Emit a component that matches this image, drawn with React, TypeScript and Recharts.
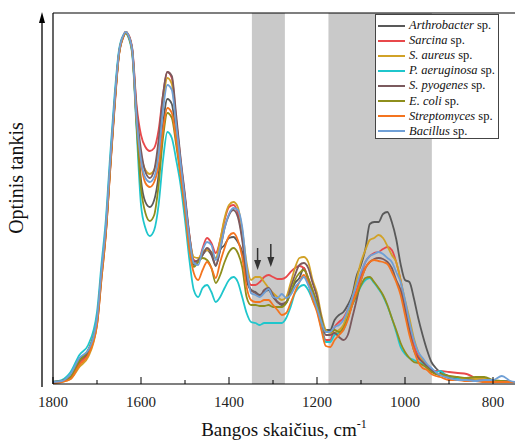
import React from "react";
import {
  LineChart,
  Line,
  XAxis,
  YAxis,
  ReferenceArea,
  ReferenceLine,
  ReferenceDot,
  Legend,
} from "recharts";

const SERIF = '"Liberation Serif", "Times New Roman", serif';

// wavenumber grid, cm-1
const wavenumbers = [
  1800, 1780, 1760, 1740, 1720, 1700, 1690, 1680, 1670, 1660, 1650, 1640, 1635, 1630, 1620,
  1610, 1600, 1590, 1580, 1570, 1560, 1550, 1540, 1530, 1520, 1510, 1500, 1490, 1480, 1470,
  1460, 1450, 1440, 1430, 1420, 1410, 1400, 1390, 1380, 1370, 1360, 1350,
  1340, 1330, 1320, 1310, 1300, 1290, 1280, 1270, 1260, 1250, 1240, 1230, 1220, 1210, 1200, 1190, 1180,
  1170, 1160, 1150, 1140, 1130, 1120, 1110, 1100, 1090, 1080, 1070, 1060, 1050, 1040, 1030, 1020, 1010,
  1000, 990, 980, 970, 960, 950, 940,
  930, 920, 900, 880, 860, 840, 820, 800, 780, 760, 750,
];

// optical density, arbitrary units
const arthrobacter = [
  2, 3, 7, 24, 34, 64, 111, 155, 220, 282, 331, 348, 352, 350, 334,
  262, 204, 182, 177, 184, 209, 259, 285, 280, 249, 216, 181, 144, 119, 122,
  129, 134, 129, 118, 134, 139, 146, 147, 142, 132, 104, 94,
  92, 89, 92, 94, 87, 82, 79, 81, 91, 101, 106, 116, 104, 89, 76, 62, 54,
  54, 64, 69, 72, 79, 89, 108, 119, 135, 160, 162, 162, 170, 172, 162, 145, 120,
  104, 102, 86, 66, 49, 34, 22,
  16, 12, 8, 6, 4, 4, 3, 2, 3, 2, 2,
];
const sarcina = [
  1, 3, 6, 21, 31, 59, 104, 149, 214, 276, 329, 347, 351, 350, 336,
  279, 249, 237, 233, 236, 254, 289, 312, 306, 264, 224, 186, 149, 124, 122,
  136, 146, 141, 131, 144, 164, 177, 179, 171, 147, 114, 99,
  99, 102, 107, 109, 107, 105, 105, 107, 112, 116, 118, 116, 106, 94, 79, 59, 44,
  44, 57, 62, 66, 74, 84, 94, 109, 122, 128, 131, 132, 135, 137, 134, 122, 104,
  79, 56, 39, 28, 22, 18, 14,
  13, 13, 12, 11, 10, 6, 4, 3, 3, 2, 2,
];
const aureus = [
  1, 2, 5, 17, 27, 59, 104, 149, 214, 278, 329, 347, 351, 349, 333,
  269, 229, 214, 210, 214, 236, 281, 306, 300, 259, 219, 184, 147, 127, 126,
  132, 134, 132, 126, 144, 166, 179, 182, 177, 154, 121, 104,
  107, 107, 102, 96, 91, 87, 84, 87, 101, 116, 126, 127, 122, 104, 91, 69, 54,
  51, 51, 54, 59, 72, 86, 104, 122, 134, 144, 146, 149, 146, 138, 129, 122, 104,
  84, 66, 46, 32, 24, 19, 14,
  10, 9, 7, 5, 5, 5, 6, 3, 3, 2, 2,
];
const aeruginosa = [
  2, 4, 12, 29, 39, 72, 119, 164, 229, 289, 334, 349, 351, 348, 330,
  254, 179, 156, 148, 154, 179, 224, 252, 246, 224, 199, 164, 124, 94, 87,
  96, 99, 92, 82, 87, 96, 104, 107, 102, 87, 71, 62,
  61, 59, 61, 61, 61, 61, 61, 66, 77, 91, 97, 99, 94, 84, 74, 56, 42,
  42, 49, 51, 54, 66, 79, 88, 98, 104, 106, 101, 95, 88, 78, 66, 52, 37,
  30, 26, 24, 22, 20, 17, 14,
  12, 13, 6, 5, 3, 3, 3, 3, 3, 2, 2,
];
const pyogenes = [
  2, 3, 7, 23, 32, 62, 108, 152, 217, 280, 330, 348, 352, 350, 335,
  274, 234, 212, 206, 214, 244, 289, 312, 308, 269, 226, 189, 149, 122, 124,
  129, 136, 131, 119, 134, 156, 169, 174, 167, 144, 109, 94,
  91, 88, 94, 96, 89, 82, 80, 82, 96, 109, 119, 121, 116, 101, 87, 66, 49,
  49, 51, 47, 44, 49, 66, 84, 104, 116, 122, 125, 126, 125, 122, 116, 104, 94,
  74, 54, 34, 26, 22, 18, 14,
  10, 9, 6, 4, 4, 3, 3, 2, 3, 2, 2,
];
const coli = [
  2, 3, 7, 23, 34, 64, 110, 154, 219, 281, 331, 348, 351, 349, 332,
  259, 196, 171, 163, 169, 199, 246, 271, 266, 239, 209, 176, 139, 117, 122,
  126, 124, 116, 101, 109, 122, 132, 136, 131, 117, 87, 79,
  79, 78, 78, 79, 77, 77, 77, 81, 91, 104, 111, 114, 106, 94, 81, 64, 52,
  52, 54, 52, 56, 66, 79, 89, 99, 106, 107, 102, 96, 89, 79, 66, 54, 41,
  32, 26, 22, 21, 19, 16, 12,
  10, 10, 8, 7, 6, 7, 7, 4, 3, 2, 2,
];
const streptomyces = [
  1, 2, 5, 19, 29, 60, 106, 151, 216, 279, 330, 348, 352, 350, 333,
  264, 221, 201, 197, 202, 219, 254, 276, 271, 244, 209, 174, 134, 111, 104,
  114, 122, 116, 106, 122, 136, 148, 151, 144, 127, 97, 84,
  82, 82, 84, 84, 79, 74, 69, 71, 81, 92, 102, 109, 101, 84, 72, 54, 38,
  37, 44, 49, 54, 64, 79, 92, 104, 116, 122, 124, 123, 122, 120, 112, 102, 89,
  69, 49, 34, 22, 16, 14, 10,
  8, 7, 4, 4, 3, 3, 2, 2, 2, 2, 2,
];
const bacillus = [
  2, 3, 10, 26, 34, 66, 113, 158, 223, 284, 332, 349, 352, 350, 334,
  266, 224, 206, 202, 207, 229, 274, 299, 294, 259, 221, 184, 146, 121, 119,
  134, 142, 139, 124, 136, 156, 170, 176, 174, 157, 117, 91,
  89, 87, 91, 95, 87, 86, 90, 86, 89, 97, 102, 107, 99, 89, 76, 62, 52,
  52, 57, 59, 64, 74, 86, 99, 112, 122, 128, 130, 132, 130, 126, 122, 112, 102,
  84, 62, 44, 32, 26, 20, 16,
  12, 9, 6, 4, 4, 3, 4, 4, 8, 3, 2,
];

const SERIES = [
  { key: "arthrobacter", genus: "Arthrobacter", color: "#595959", values: arthrobacter },
  { key: "sarcina", genus: "Sarcina", color: "#e8484b", values: sarcina },
  { key: "aureus", genus: "S. aureus", color: "#d1a227", values: aureus },
  { key: "aeruginosa", genus: "P. aeruginosa", color: "#1fc6cc", values: aeruginosa },
  { key: "pyogenes", genus: "S. pyogenes", color: "#7b5a5e", values: pyogenes },
  { key: "coli", genus: "E. coli", color: "#8e8e1c", values: coli },
  { key: "streptomyces", genus: "Streptomyces", color: "#f4741f", values: streptomyces },
  { key: "bacillus", genus: "Bacillus", color: "#6f9fd6", values: bacillus },
];

const majorTicks = [1800, 1600, 1400, 1200, 1000, 800];
const allTicks = [1800, 1700, 1600, 1500, 1400, 1300, 1200, 1100, 1000, 900, 800];

// shaded bands [from, to]
const bands = [
  [1348, 1273],
  [1174, 939],
];

// down arrows in the first band
const arrowX = [1335, 1305];
const arrowTop = [136, 140];
const arrowTip = [114, 117];

const chartData = wavenumbers.map((w, i) => {
  const row: Record<string, number> = { w };
  SERIES.forEach((s) => {
    row[s.key] = s.values[i];
  });
  return row;
});

function WaveTick(props: any) {
  const { x, y, payload } = props;
  const major = majorTicks.includes(payload.value);
  return (
    <g>
      <line x1={x} x2={x} y1={y} y2={y - (major ? 7 : 4)} stroke="#000" strokeWidth={1} />
      {major && (
        <text x={x} y={y + 23} textAnchor="middle" fontSize={15} fill="#222" fontFamily={SERIF}>
          {payload.value}
        </text>
      )}
    </g>
  );
}

function XLabel(props: any) {
  const { x, y, width } = props.viewBox;
  return (
    <text x={x + width / 2} y={y + 52} textAnchor="middle" fontSize={19} fill="#111" fontFamily={SERIF}>
      Bangos skaičius, cm
      <tspan dy={-8} fontSize={12}>
        -1
      </tspan>
    </text>
  );
}

function YLabel(props: any) {
  const { x, y, width, height } = props.viewBox;
  const ax = x + width - 11;
  return (
    <g>
      <line x1={ax} x2={ax} y1={y + height + 3} y2={y + 8} stroke="#000" strokeWidth={1.3} />
      <path d={`M${ax},${y - 1} L${ax - 3},${y + 10} L${ax + 3},${y + 10} Z`} fill="#000" />
      <text
        transform={`translate(${x + 23}, ${y + 165}) rotate(-90)`}
        textAnchor="middle"
        fontSize={20}
        fill="#111"
        fontFamily={SERIF}
      >
        Optinis tankis
      </text>
    </g>
  );
}

function SpeciesLegend() {
  return (
    <div
      style={{
        border: "1px solid #444",
        background: "#fff",
        width: 124,
        height: 125,
        boxSizing: "border-box",
        paddingTop: 3,
        fontFamily: SERIF,
        fontSize: 12.5,
        color: "#111",
      }}
    >
      {SERIES.map((s) => (
        <div key={s.key} style={{ display: "flex", alignItems: "center", height: 15.1 }}>
          <span style={{ width: 27, height: 2, background: s.color, marginLeft: 2, marginRight: 4 }} />
          <span style={{ whiteSpace: "nowrap", lineHeight: "15px" }}>
            <i>{s.genus}</i> sp.
          </span>
        </div>
      ))}
    </div>
  );
}

export default function App() {
  return (
    <div style={{ position: "absolute", left: 0, top: 0, background: "#fff" }}>
      <LineChart
        width={515}
        height={442}
        data={chartData}
        margin={{ top: 13, right: 0, bottom: 0, left: 0 }}
      >
        <XAxis
          dataKey="w"
          type="number"
          domain={[750, 1800]}
          reversed
          allowDataOverflow
          ticks={allTicks}
          interval={0}
          tick={(p: any) => <WaveTick {...p} />}
          tickLine={false}
          tickSize={0}
          tickMargin={0}
          height={58}
          axisLine={{ stroke: "#000", strokeWidth: 1.2 }}
          label={(p: any) => <XLabel {...p} />}
        />
        <YAxis
          type="number"
          domain={[0, 371]}
          allowDataOverflow
          width={53}
          tick={false}
          tickLine={false}
          axisLine={{ stroke: "#000", strokeWidth: 1.2 }}
          label={(p: any) => <YLabel {...p} />}
        />
        {bands.map(([a, b]) => (
          <ReferenceArea key={a} x1={a} x2={b} fill="#c9c9c9" fillOpacity={1} stroke="none" />
        ))}
        <ReferenceLine y={371} stroke="#000" strokeWidth={1.2} />
        {SERIES.map((s) => (
          <Line
            key={s.key}
            type="monotone"
            dataKey={s.key}
            stroke={s.color}
            strokeWidth={1.8}
            dot={false}
            activeDot={false}
            isAnimationActive={false}
          />
        ))}
        {arrowX.map((ax, i) => (
          <ReferenceLine
            key={"al" + ax}
            segment={[
              { x: ax, y: arrowTop[i] },
              { x: ax, y: arrowTip[i] + 8 },
            ]}
            stroke="#333"
            strokeWidth={1.5}
          />
        ))}
        {arrowX.map((ax, i) => (
          <ReferenceDot
            key={"ad" + ax}
            x={ax}
            y={arrowTip[i]}
            shape={(p: any) => (
              <path d={`M${p.cx},${p.cy} L${p.cx - 3.5},${p.cy - 10} L${p.cx + 3.5},${p.cy - 10} Z`} fill="#333" />
            )}
          />
        ))}
        <Legend
          layout="vertical"
          align="center"
          verticalAlign="middle"
          wrapperStyle={{ left: 375, top: 14, width: 124, height: 125 }}
          content={() => <SpeciesLegend />}
        />
      </LineChart>
    </div>
  );
}
